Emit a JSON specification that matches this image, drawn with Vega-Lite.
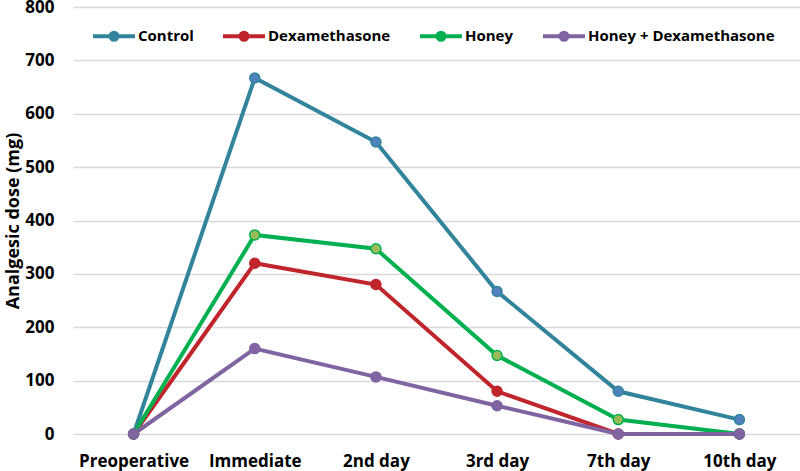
{
  "$schema": "https://vega.github.io/schema/vega-lite/v6.json",
  "width": 727,
  "height": 427,
  "autosize": {"type": "none"},
  "padding": {"left": 73, "top": 7, "right": 0, "bottom": 37},
  "background": "white",
  "config": {
    "view": {"stroke": null},
    "font": "Open Sans",
    "axis": {"labelFont": "Open Sans", "titleFont": "Open Sans", "labelFontWeight": "bold", "titleFontWeight": "bold", "labelColor": "#000000", "titleColor": "#000000"}
  },
  "data": {
    "values": [
      {"day": "Preoperative", "series": "Control", "dose": 0},
      {"day": "Immediate", "series": "Control", "dose": 667},
      {"day": "2nd day", "series": "Control", "dose": 547},
      {"day": "3rd day", "series": "Control", "dose": 267},
      {"day": "7th day", "series": "Control", "dose": 80},
      {"day": "10th day", "series": "Control", "dose": 27},
      {"day": "Preoperative", "series": "Dexamethasone", "dose": 0},
      {"day": "Immediate", "series": "Dexamethasone", "dose": 320},
      {"day": "2nd day", "series": "Dexamethasone", "dose": 280},
      {"day": "3rd day", "series": "Dexamethasone", "dose": 80},
      {"day": "7th day", "series": "Dexamethasone", "dose": 0},
      {"day": "10th day", "series": "Dexamethasone", "dose": 0},
      {"day": "Preoperative", "series": "Honey", "dose": 0},
      {"day": "Immediate", "series": "Honey", "dose": 373},
      {"day": "2nd day", "series": "Honey", "dose": 347},
      {"day": "3rd day", "series": "Honey", "dose": 147},
      {"day": "7th day", "series": "Honey", "dose": 27},
      {"day": "10th day", "series": "Honey", "dose": 0},
      {"day": "Preoperative", "series": "Honey + Dexamethasone", "dose": 0},
      {"day": "Immediate", "series": "Honey + Dexamethasone", "dose": 160},
      {"day": "2nd day", "series": "Honey + Dexamethasone", "dose": 107},
      {"day": "3rd day", "series": "Honey + Dexamethasone", "dose": 53},
      {"day": "7th day", "series": "Honey + Dexamethasone", "dose": 0},
      {"day": "10th day", "series": "Honey + Dexamethasone", "dose": 0}
    ]
  },
  "encoding": {
    "x": {
      "field": "day", "type": "nominal",
      "sort": ["Preoperative", "Immediate", "2nd day", "3rd day", "7th day", "10th day"],
      "scale": {"paddingInner": 0, "paddingOuter": 0},
      "axis": {"title": null, "labelAngle": 0, "labelFontSize": 17, "labelPadding": 19, "labelLimit": 0, "ticks": false, "domain": false, "grid": false}
    },
    "y": {
      "field": "dose", "type": "quantitative",
      "scale": {"domain": [0, 800], "nice": false},
      "axis": {"title": "Analgesic dose (mg)", "titleFontSize": 18, "titlePadding": 2, "values": [0, 100, 200, 300, 400, 500, 600, 700, 800], "labelFontSize": 17, "labelPadding": 19, "ticks": false, "domain": false, "grid": true, "gridColor": "#D9D9D9", "gridWidth": 1.3}
    }
  },
  "layer": [
    {
      "mark": {"type": "line", "strokeWidth": 4},
      "encoding": {
        "stroke": {
          "field": "series", "type": "nominal",
          "scale": {"domain": ["Control", "Dexamethasone", "Honey", "Honey + Dexamethasone"], "range": ["#31849B", "#C0252B", "#00B050", "#8064A2"]},
          "legend": {
            "title": null, "orient": "none", "direction": "horizontal", "legendX": 18, "legendY": 6, "padding": 0,
            "symbolType": "M-1,0H1M0.167,0A0.167,0.167,0,1,1,-0.167,0A0.167,0.167,0,1,1,0.167,0M0.071,0A0.071,0.071,0,1,1,-0.071,0A0.071,0.071,0,1,1,0.071,0",
            "symbolSize": 1764, "symbolStrokeWidth": 4, "symbolFillColor": "transparent",
            "labelFontSize": 15, "labelFont": "Open Sans", "labelFontWeight": "bold", "labelColor": "#000000", "labelOffset": 1, "labelLimit": 0, "columnPadding": 21
          }
        }
      }
    },
    {
      "mark": {"type": "point", "filled": true, "size": 100, "strokeWidth": 1.5, "opacity": 1},
      "encoding": {
        "stroke": {"field": "series", "type": "nominal"},
        "fill": {
          "field": "series", "type": "nominal",
          "scale": {"domain": ["Control", "Dexamethasone", "Honey", "Honey + Dexamethasone"], "range": ["#4F81BD", "#C0252B", "#9BBB59", "#8064A2"]},
          "legend": null
        }
      }
    }
  ]
}
